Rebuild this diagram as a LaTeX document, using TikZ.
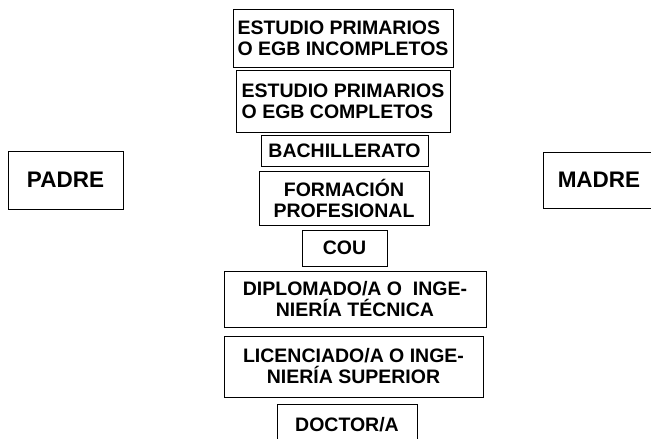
\documentclass[tikz,border=0pt]{standalone}
\usepackage{fontspec}
\setmainfont{Liberation Sans}
\begin{document}
\begin{tikzpicture}[x=1pt,y=-1pt,
  caja/.style={draw,line width=1pt,align=center,inner sep=0pt,
    font=\fontsize{19.5}{21}\selectfont\bfseries},
  padres/.style={caja,font=\fontsize{22.5}{24}\selectfont\bfseries}]
\useasboundingbox (0,0) rectangle (651,439);
\clip (0,0) rectangle (651,439);
% niveles de estudios
\node[caja,align=left,minimum width=220pt,minimum height=58pt] (incompletos) at (343,38) {ESTUDIO PRIMARIOS\\O EGB INCOMPLETOS};
\node[caja,align=left,minimum width=214pt,minimum height=62pt] (completos) at (343,101) {ESTUDIO PRIMARIOS\\O EGB COMPLETOS};
\node[caja,minimum width=167pt,minimum height=31pt] (bachillerato) at (344.5,150.5) {BACHILLERATO};
\node[caja,minimum width=170pt,minimum height=54pt] (fp) at (344,198) {FORMACIÓN\\PROFESIONAL};
\node[caja,minimum width=85pt,minimum height=36pt] (cou) at (344.5,248) {COU};
\node[caja,minimum width=262pt,minimum height=56pt] (diplomado) at (355,299) {DIPLOMADO/A O\ \ INGE-\\NIERÍA TÉCNICA};
\node[caja,minimum width=259pt,minimum height=61pt] (licenciado) at (353.5,366.5) {LICENCIADO/A O INGE-\\NIERÍA SUPERIOR};
\node[caja,minimum width=140pt,minimum height=42pt] (doctor) at (347,425) {DOCTOR/A};
% padres
\node[padres,minimum width=115pt,minimum height=58pt] (padre) at (65.5,180) {PADRE};
\node[padres,minimum width=112pt,minimum height=56pt] (madre) at (599,180) {MADRE};
\end{tikzpicture}
\end{document}
